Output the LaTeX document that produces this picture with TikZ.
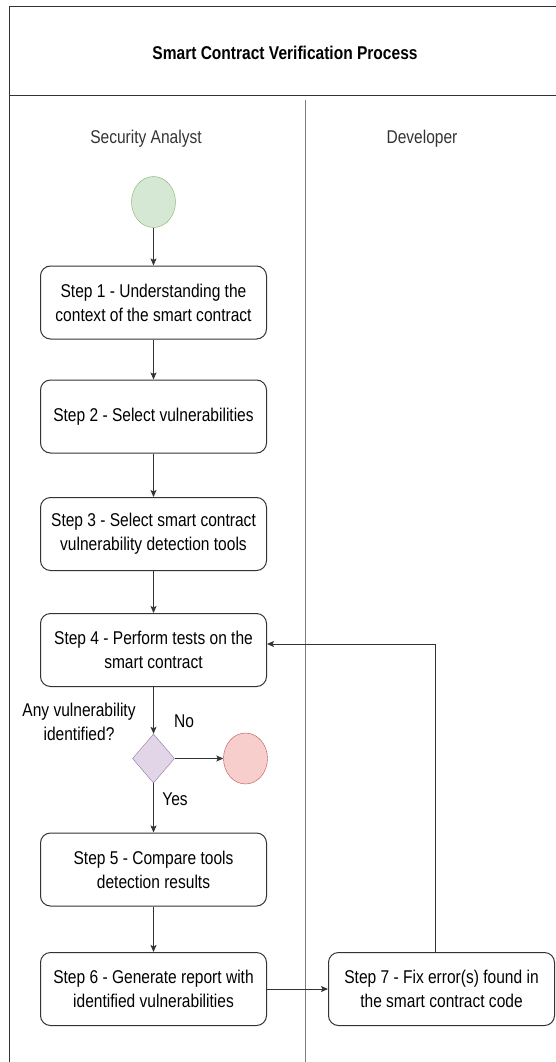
\documentclass[tikz,border=0pt]{standalone}
\usepackage{fontspec}
\setmainfont[FakeStretch=0.84]{Liberation Sans}
\usetikzlibrary{shapes.geometric,arrows.meta}
\definecolor{linegray}{HTML}{333333}
\definecolor{startfill}{HTML}{D5E8D4}
\definecolor{startdraw}{HTML}{82B366}
\definecolor{stopfill}{HTML}{F8CECC}
\definecolor{stopdraw}{HTML}{B85450}
\definecolor{decfill}{HTML}{E1D5E7}
\definecolor{decdraw}{HTML}{9673A6}
\begin{document}
\begin{tikzpicture}[x=1pt, y=-1pt, node distance=116pt, font=\fontsize{18.5}{24}\selectfont]
        \tikzstyle{stepbox}=[draw=linegray, line width=1pt, rectangle, rounded corners=10pt, fill=white, minimum width=226pt, minimum height=73pt, align=center, inner sep=0pt];
        \tikzstyle{flow}=[-{Stealth[length=7pt, width=6pt, inset=1.5pt]}, linegray, line width=0.9pt];

        \useasboundingbox (0,0) rectangle (556,1062);

        % pool and lanes
        \draw[linegray, line width=1pt] (9.6,1062) -- (9.6,7) -- (556,7);
        \draw[linegray, line width=1pt] (9.6,96) -- (556,96);
        \draw[gray, line width=1pt] (305,100) -- (305,1062);
        \node[font=\bfseries\fontsize{18.5}{24}\selectfont] (title) at (285,53) {Smart Contract Verification Process};
        \node[text=linegray] (lane1) at (146,139) {Security Analyst};
        \node[text=linegray] (lane2) at (422,139) {Developer};

        \node[ellipse, draw=startdraw, fill=startfill, minimum width=44pt, minimum height=51pt] (start) at (153.5,202) {};
        \node[stepbox, below of=start, yshift=15.5pt] (s1) {Step 1 - Understanding the\\context of the smart contract};
        \node[stepbox, below of=s1, yshift=2pt] (s2) {Step 2 - Select vulnerabilities};
        \node[stepbox, below of=s2, yshift=-1.5pt] (s3) {Step 3 - Select smart contract\\vulnerability detection tools};
        \node[stepbox, below of=s3] (s4) {Step 4 - Perform tests on the\\smart contract};
        \node[diamond, draw=decdraw, fill=decfill, minimum width=42pt, minimum height=49pt, inner sep=0pt, below of=s4, yshift=7.5pt] (dec) {};
        \node[ellipse, draw=stopdraw, fill=stopfill, minimum width=44pt, minimum height=51pt, right of=dec, node distance=92pt] (stop) {};
        \node[stepbox, below of=dec, yshift=5pt] (s5) {Step 5 - Compare tools\\detection results};
        \node[stepbox, below of=s5, yshift=-3.5pt] (s6) {Step 6 - Generate report with\\identified vulnerabilities};
        \node[stepbox, right of=s6, node distance=288pt] (s7) {Step 7 - Fix error(s) found in\\the smart contract code};

        \node[align=center] (q) at (79,722) {Any vulnerability\\identified?};
        \node (no) at (184,721) {No};
        \node (yes) at (175,799) {Yes};

        \draw[flow] (start) -- (s1);
        \draw[flow] (s1) -- (s2);
        \draw[flow] (s2) -- (s3);
        \draw[flow] (s3) -- (s4);
        \draw[flow] (s4) -- (dec);
        \draw[flow] (dec) -- (stop);
        \draw[flow] (dec) -- (s5);
        \draw[flow] (s5) -- (s6);
        \draw[flow] (s6) -- (s7);
        \draw[flow] ([xshift=-6pt]s7.north) |- ([yshift=6pt]s4.east);
    \end{tikzpicture}
\end{document}
